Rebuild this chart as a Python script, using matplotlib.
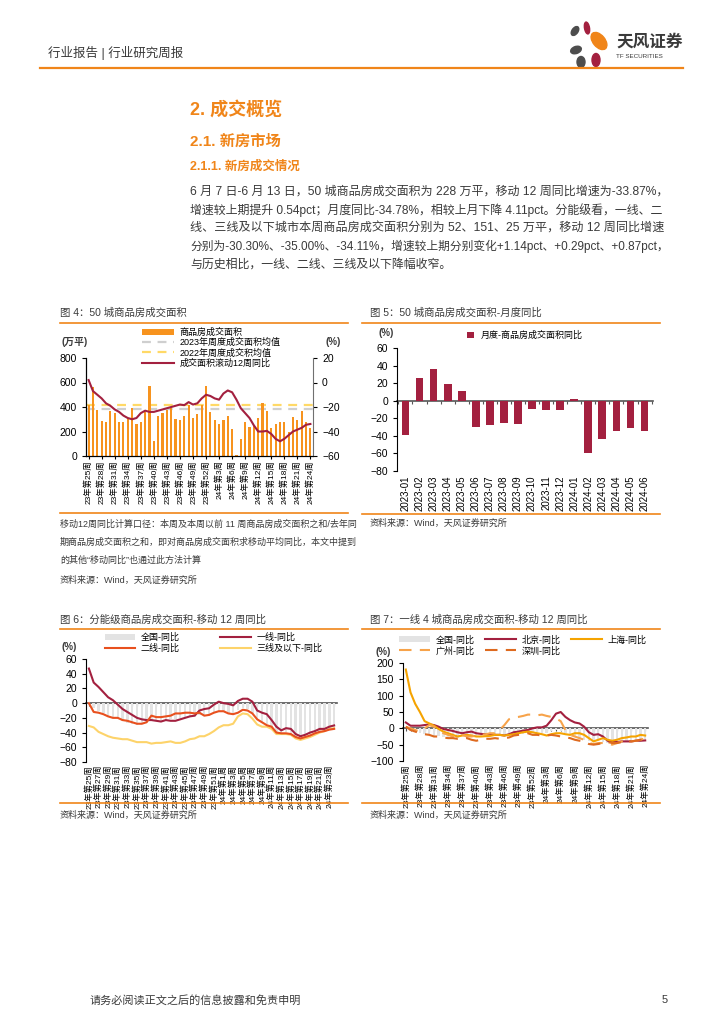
import numpy as np
import matplotlib.pyplot as plt
from matplotlib.patches import Ellipse
from matplotlib.lines import Line2D
from matplotlib.ticker import NullFormatter

plt.rcParams['font.family'] = ['Liberation Sans', 'Noto Sans CJK SC', 'DejaVu Sans']
plt.rcParams['axes.linewidth'] = 0.8

#%% data
weeks = ['23年第%d周' % i for i in range(25, 53)] + ['24年第%d周' % i for i in range(1, 25)]

# fig 4: weekly area (万平) and 12-week rolling yoy (%)
area = [420, 565, 375, 285, 275, 365, 350, 275, 280, 305, 395, 265, 280, 360, 570, 125, 325, 355, 375, 395,
        300, 290, 325, 420, 310, 345, 420, 570,
        360, 290, 265, 295, 325, 220, 5, 135, 280, 235, 245, 310, 430, 370, 230, 265, 280, 275, 195, 315,
        295, 365, 280, 228]
yoy_all = [2, -7, -10, -13, -17, -19, -22, -24, -27, -29, -30, -29, -25, -23, -24, -24, -23, -22, -21, -20,
           -19, -18, -18.5, -16, -18, -17, -13, -10,
           -11, -13, -14, -9, -6.5, -8, -14, -21, -25, -29, -35, -40, -40, -39.5, -42, -46, -48, -46, -43, -40,
           -38.5, -37, -34.5, -33.87]
avg_2023 = 385
avg_2022 = 418

# fig 5: monthly yoy
months = ['2023-01', '2023-02', '2023-03', '2023-04', '2023-05', '2023-06', '2023-07', '2023-08', '2023-09',
          '2023-10', '2023-11', '2023-12', '2024-01', '2024-02', '2024-03', '2024-04', '2024-05', '2024-06']
month_yoy = [-39, 26, 36, 19, 11, -30, -28, -25, -26, -9, -11, -10, 2, -60, -44, -35, -31, -34.78]

# fig 6: by tier
tier1 = [47, 28, 22, 15, 8, 4, -2, -8, -12, -16, -20, -22, -23, -23, -24, -25, -23, -24, -24, -22,
         -20, -18, -17, -10, -8, -7, -2, 2,
         0, -1, -3, 3, 6, 6, 2, -10, -13, -15, -23, -32, -37, -34, -35, -42, -45, -43, -40, -38,
         -35, -35, -32, -30.3]
tier2 = [0, -12, -13, -15, -18, -20, -20, -23, -24, -26, -28, -28, -26, -17, -19, -19, -18, -17, -14, -14,
         -13, -13, -14, -13, -17, -16, -13, -11,
         -11, -14, -15, -13, -9, -10, -14, -22, -26, -30, -32, -40, -41, -41, -42, -46, -48, -46, -44, -41,
         -39, -38, -36, -35]
tier3 = [-31, -33, -39, -42, -45, -47, -48, -49, -49, -51, -53, -53, -53, -55, -54, -54, -53, -52, -54, -54,
         -52, -49, -48, -45, -45, -42, -38, -33,
         -30, -30, -28, -18, -14, -15, -21, -29, -32, -32, -35, -42, -42, -42, -43, -48, -50, -48, -46, -43,
         -40, -38, -35, -34.1]

# fig 7: tier-1 cities
bj = [18, 8, 8, 8, 10, 12, 10, 5, -2, -5, -8, -12, -15, -12, -10, -15, -17, -18, -18, -20,
      -20, -22, -18, -12, -10, -7, -5, 0,
      3, 3, 8, 25, 45, 50, 35, 25, 18, 15, 5, -12, -20, -18, -25, -38, -42, -42, -40, -40,
      -40, -38, -38, -37]
sh = [180, 110, 75, 50, 22, 15, 8, -2, -10, -15, -20, -25, -22, -20, -22, -25, -25, -24, -23, -20,
      -20, -22, -20, -18, -15, -12, -10, -12,
      -15, -18, -22, -18, -15, -15, -18, -20, -15, -15, -20, -30, -40, -35, -30, -35, -38, -35, -30, -28,
      -25, -25, -20, -22]
gz = [5, 0, -5, -10, 0, 10, 5, -5, -15, -20, -25, -20, -20, -25, -25, -22, -20, -18, -15, -15,
      -5, 10, 28, 33, 35, 38, 42, 42,
      40, 42, 38, 35, 30, 22, -5, -20, -25, -30, -35, -45, -48, -45, -45, -48, -50, -45, -40, -42,
      -40, -38, -35, -30]
sz = [5, -5, -10, -15, -18, -20, -25, -25, -28, -30, -30, -32, -30, -30, -35, -38, -35, -32, -32, -30,
      -32, -30, -28, -22, -20, -18, -15, -20,
      -20, -22, -22, -20, -22, -25, -28, -30, -35, -38, -40, -48, -50, -48, -45, -42, -45, -45, -42, -40,
      -40, -38, -35, -35]

#%% colours
ORANGE = '#F08519'
BAR_OR = '#F7931E'
DARKRED = '#A3203F'
TXT = '#3A3A3A'

W, H = 724, 1024
fig = plt.figure(figsize=(W / 100, H / 100), dpi=100)


def box(x0, y0, x1, y1):
    return [x0 / W, 1 - y1 / H, (x1 - x0) / W, (y1 - y0) / H]


def txt(x, y, s, **kw):
    kw.setdefault('color', TXT)
    kw.setdefault('va', 'center')
    fig.text(x / W, 1 - y / H, s, **kw)


def hline(x0, x1, y, color=ORANGE, lw=1.2):
    fig.add_artist(Line2D([x0 / W, x1 / W], [1 - y / H, 1 - y / H], color=color, lw=lw))


def zero_axis(ax, frac, ticks):
    # zero line with small downward ticks, as in the report charts
    z = ax.secondary_xaxis(frac)
    z.set_alignment('bottom')
    z.set_xticks(ticks)
    z.xaxis.set_major_formatter(NullFormatter())
    z.tick_params(length=2, color='#555555')
    z.spines['bottom'].set_color('#555555')
    z.spines['bottom'].set_linewidth(1.2)
    return z


#%% header
txt(48, 53, '行业报告 | 行业研究周报', fontsize=9)
hline(40, 683, 68, lw=1.6)
logo = fig.add_axes(box(566, 20, 614, 68))
logo.set_xlim(0, 48)
logo.set_ylim(48, 0)
logo.set_aspect('equal')
logo.axis('off')
for (cx, cy, w, h, a, c) in [(9, 11, 6, 10, 35, '#4D4D4D'), (21, 8, 5, 12, -10, DARKRED),
                             (33, 21, 12, 20, -40, ORANGE), (10, 30, 7, 11, 70, '#4D4D4D'),
                             (15, 42, 8, 11, 0, '#4D4D4D'), (30, 40, 8, 13, 0, DARKRED)]:
    logo.add_patch(Ellipse((cx, cy), w, h, angle=a, color=c))
txt(616, 42, '天风证券', fontsize=12, weight='bold')
txt(616, 57, 'TF SECURITIES', fontsize=4.5)

#%% text block
txt(190, 110, '2. 成交概览', fontsize=13, weight='bold', color=ORANGE)
txt(190, 142, '2.1. 新房市场', fontsize=11, weight='bold', color=ORANGE)
txt(190, 167, '2.1.1. 新房成交情况', fontsize=9, weight='bold', color=ORANGE)
body = ['6 月 7 日-6 月 13 日，50 城商品房成交面积为 228 万平，移动 12 周同比增速为-33.87%，',
        '增速较上期提升 0.54pct；月度同比-34.78%，相较上月下降 4.11pct。分能级看，一线、二',
        '线、三线及以下城市本周商品房成交面积分别为 52、151、25 万平，移动 12 周同比增速',
        '分别为-30.30%、-35.00%、-34.11%，增速较上期分别变化+1.14pct、+0.29pct、+0.87pct，',
        '与历史相比，一线、二线、三线及以下降幅收窄。']
body_size = [8.65, 8.6, 8.7, 8.45, 8.6]
for i, line in enumerate(body):
    txt(190, 192 + i * 18.2, line, fontsize=body_size[i])

x = np.arange(len(weeks))

#%% fig 4
txt(60, 313, '图 4：50 城商品房成交面积', fontsize=7.5)
hline(60, 348, 323)
hline(60, 348, 513)
ax4 = fig.add_axes(box(86, 358, 313, 456))
bars = ax4.bar(x, area, width=0.5, color=BAR_OR, label='商品房成交面积', zorder=2)
l23 = ax4.axhline(avg_2023, color='#CFCFCF', ls=(0, (4, 3)), lw=1.6, label='2023年周度成交面积均值', zorder=1)
l22 = ax4.axhline(avg_2022, color='#FFD966', ls=(0, (4, 3)), lw=1.6, label='2022年周度成交积均值', zorder=1)
ax4.set_ylim(0, 800)
ax4.set_yticks(range(0, 801, 200))
ax4.set_xlim(-0.6, len(weeks) - 0.4)
ax4.set_xticks(x[::3])
ax4.set_xticklabels(weeks[::3], rotation=90, fontsize=6)
ax4.tick_params(axis='y', labelsize=7.5, length=3)
ax4.tick_params(axis='x', length=2, pad=1)
ax4r = ax4.twinx()
lyoy, = ax4r.plot(x, yoy_all, color=DARKRED, lw=1.5, label='成交面积滚动12周同比')
ax4r.set_ylim(-60, 20)
ax4r.set_yticks(range(-60, 21, 20))
ax4r.tick_params(axis='y', labelsize=7.5, length=3)
for a in (ax4, ax4r):
    a.spines['top'].set_visible(False)
ax4.spines['right'].set_visible(False)
ax4r.spines['right'].set_color('#707070')
fig.legend([bars, l23, l22, lyoy], [bars.get_label(), l23.get_label(), l22.get_label(), lyoy.get_label()],
           loc='upper left', bbox_to_anchor=(138 / W, 1 - 324 / H), frameon=False,
           fontsize=6.5, handlelength=3.6, labelspacing=0.12, handletextpad=0.6, borderaxespad=0)
txt(62, 342, '(万平)', fontsize=7, weight='bold')
txt(325, 342, '(%)', fontsize=7, weight='bold')
txt(60, 524, '移动12周同比计算口径：本周及本周以前 11 周商品房成交面积之和/去年同', fontsize=6.5)
txt(60, 542, '期商品房成交面积之和，即对商品房成交面积求移动平均同比，本文中提到', fontsize=6.5)
txt(60, 560, '的其他“移动同比”也通过此方法计算', fontsize=6.5)
txt(60, 580, '资料来源：Wind，天风证券研究所', fontsize=6.5)

#%% fig 5
txt(370, 313, '图 5：50 城商品房成交面积-月度同比', fontsize=7.5)
hline(362, 660, 323)
hline(362, 660, 514)
ax5 = fig.add_axes(box(397, 348, 653, 471))
m = np.arange(len(months))
ax5.bar(m, month_yoy, width=0.55, color=DARKRED, label='月度-商品房成交面积同比')
ax5.set_ylim(-80, 60)
ax5.set_yticks(range(-80, 61, 20))
ax5.set_xlim(-0.6, len(months) - 0.4)
ax5.set_xticks(m)
ax5.set_xticklabels(months, rotation=90, fontsize=7)
ax5.tick_params(axis='x', length=0, pad=3)
ax5.tick_params(axis='y', labelsize=7.5, length=3)
for s in ('top', 'right', 'bottom'):
    ax5.spines[s].set_visible(False)
zero_axis(ax5, 80 / 140, np.arange(-0.5, len(months), 1))
ax5.legend(loc='upper center', bbox_to_anchor=(0.5, 1.17), frameon=False, fontsize=6.5,
           handlelength=0.7, handleheight=0.7, handletextpad=0.8, borderaxespad=0)
txt(378, 333, '(%)', fontsize=7, weight='bold')
txt(370, 523, '资料来源：Wind，天风证券研究所', fontsize=6.5)

#%% fig 6
txt(60, 620, '图 6：分能级商品房成交面积-移动 12 周同比', fontsize=7.5)
hline(60, 348, 629)
hline(60, 348, 803)
ax6 = fig.add_axes(box(86, 659, 337, 762))
ax6.bar(x, yoy_all, width=0.5, color='#E3E3E3', label='全国-同比', zorder=1)
ax6.plot(x, tier1, color=DARKRED, lw=1.5, label='一线-同比', zorder=3)
ax6.plot(x, tier2, color='#E8501E', lw=1.5, label='二线-同比', zorder=3)
ax6.plot(x, tier3, color='#FDD36A', lw=1.5, label='三线及以下-同比', zorder=2)
ax6.set_ylim(-80, 60)
ax6.set_yticks(range(-80, 61, 20))
ax6.set_xlim(-0.6, len(weeks) - 0.4)
ax6.set_xticks(x[::2])
ax6.set_xticklabels(weeks[::2], rotation=90, fontsize=6)
ax6.tick_params(axis='x', length=0, pad=2)
ax6.tick_params(axis='y', labelsize=7.5, length=3)
for s in ('top', 'right', 'bottom'):
    ax6.spines[s].set_visible(False)
zero_axis(ax6, 80 / 140, x)
h, l = ax6.get_legend_handles_labels()
order = [3, 1, 0, 2]
ax6.legend([h[i] for i in order], [l[i] for i in order], ncol=2, loc='lower left',
           bbox_to_anchor=(0.06, 1.02), frameon=False, fontsize=6.5, handlelength=3.4,
           labelspacing=0.2, columnspacing=4.5, handletextpad=0.6, borderaxespad=0)
txt(62, 647, '(%)', fontsize=7, weight='bold')
txt(60, 815, '资料来源：Wind，天风证券研究所', fontsize=6.5)

#%% fig 7
txt(370, 620, '图 7：一线 4 城商品房成交面积-移动 12 周同比', fontsize=7.5)
hline(362, 660, 629)
hline(362, 660, 803)
ax7 = fig.add_axes(box(403, 663, 648, 761))
ax7.bar(x, yoy_all, width=0.5, color='#E3E3E3', label='全国-同比', zorder=1)
ax7.plot(x, bj, color=DARKRED, lw=1.5, label='北京-同比', zorder=3)
ax7.plot(x, sh, color='#F5A300', lw=1.5, label='上海-同比', zorder=3)
ax7.plot(x, gz, color='#F7A34A', lw=1.5, ls=(0, (6, 4)), label='广州-同比', zorder=3)
ax7.plot(x, sz, color='#DE6A1F', lw=1.5, ls=(0, (6, 4)), label='深圳-同比', zorder=3)
ax7.set_ylim(-100, 200)
ax7.set_yticks(range(-100, 201, 50))
ax7.set_xlim(-0.6, len(weeks) - 0.4)
ax7.set_xticks(x[::3])
ax7.set_xticklabels(weeks[::3], rotation=90, fontsize=6)
ax7.tick_params(axis='x', length=0, pad=2)
ax7.tick_params(axis='y', labelsize=7.5, length=3)
for s in ('top', 'right', 'bottom'):
    ax7.spines[s].set_visible(False)
zero_axis(ax7, 100 / 300, x)
h, l = ax7.get_legend_handles_labels()
order = [4, 2, 0, 3, 1]
ax7.legend([h[i] for i in order], [l[i] for i in order], ncol=3, loc='lower left',
           bbox_to_anchor=(-0.03, 1.04), frameon=False, fontsize=6.5, handlelength=3.4,
           labelspacing=0.2, columnspacing=1.2, handletextpad=0.6, borderaxespad=0)
txt(375, 652, '(%)', fontsize=7, weight='bold')
txt(370, 815, '资料来源：Wind，天风证券研究所', fontsize=6.5)

#%% footer
txt(90, 1000, '请务必阅读正文之后的信息披露和免责申明', fontsize=8)
txt(662, 1000, '5', fontsize=8)

fig.savefig('out.png', dpi=100)
